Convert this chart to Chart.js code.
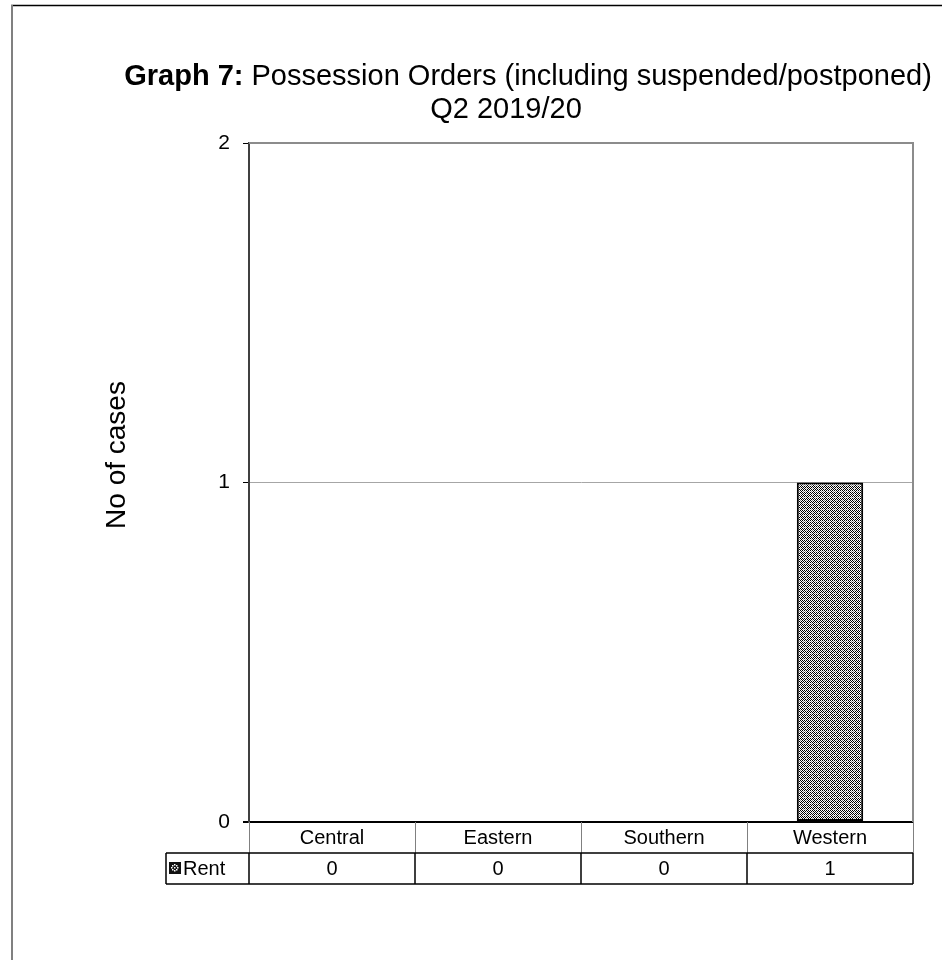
<!DOCTYPE html>
<html>
<head>
<meta charset="utf-8">
<style>
  html, body { margin: 0; padding: 0; background: #fff; }
  #wrap { width: 942px; height: 960px; position: relative; }
</style>
<script src="https://cdn.jsdelivr.net/npm/chart.js@4.4.1/dist/chart.umd.min.js"></script>
</head>
<body>
<div id="wrap"><canvas id="grafico" width="942" height="960"></canvas></div>
<script>
// ─── Dados ────────────────────────────────────────────────────────────────────
const regioes   = ['Central', 'Eastern', 'Southern', 'Western'];
const rent      = [0, 0, 0, 1];
const serieNome = 'Rent';
const eixoMax   = 2;
const tituloNegrito = 'Graph 7:';
const tituloResto   = ' Possession Orders (including suspended/postponed)';
const subtitulo     = 'Q2 2019/20';
const tituloEixoY   = 'No of cases';

const FONTE = '"Liberation Sans", Arial, sans-serif';

// ─── Padrão pontilhado da barra ───────────────────────────────────────────────
function criarPadrao(ctx) {
  const c = document.createElement('canvas');
  c.width = 6; c.height = 6;
  const p = c.getContext('2d');
  p.fillStyle = '#fff';
  p.fillRect(0, 0, 6, 6);
  const pretos = [[0,0],[2,0],[4,0],[1,1],[3,1],[5,1],[0,2],[4,2],[1,3],[3,3],[5,3],[0,4],[2,4],[4,4],[3,5]];
  p.fillStyle = '#000';
  pretos.forEach(([x, y]) => p.fillRect(x, y, 1, 1));
  p.fillStyle = '#888';
  [[2,2],[1,5],[5,5]].forEach(([x, y]) => p.fillRect(x, y, 1, 1));
  return ctx.createPattern(c, 'repeat');
}

// ─── Plugin: título, moldura e tabela de dados ────────────────────────────────
const desenhoExtra = {
  id: 'desenhoExtra',
  afterDraw(chart) {
    const { ctx, chartArea: a, scales: { x } } = chart;
    ctx.save();

    // moldura externa
    ctx.strokeStyle = '#000';
    ctx.lineWidth = 1.5;
    ctx.beginPath(); ctx.moveTo(11, 5.5); ctx.lineTo(942, 5.5); ctx.stroke();
    ctx.strokeStyle = '#808080';
    ctx.lineWidth = 2;
    ctx.beginPath(); ctx.moveTo(12, 5); ctx.lineTo(12, 960); ctx.stroke();

    // título em duas linhas
    ctx.fillStyle = '#000';
    ctx.textBaseline = 'alphabetic';
    ctx.font = `bold 29px ${FONTE}`;
    const w1 = ctx.measureText(tituloNegrito).width;
    ctx.font = `29px ${FONTE}`;
    const w2 = ctx.measureText(tituloResto).width;
    const cx = 528;
    let tx = cx - (w1 + w2) / 2;
    ctx.textAlign = 'left';
    ctx.font = `bold 29px ${FONTE}`;
    ctx.fillText(tituloNegrito, tx, 85);
    ctx.font = `29px ${FONTE}`;
    ctx.fillText(tituloResto, tx + w1, 85);
    ctx.textAlign = 'center';
    ctx.fillText(subtitulo, 506, 118);

    // título do eixo Y
    ctx.save();
    ctx.translate(117, 455);
    ctx.rotate(-Math.PI / 2);
    ctx.font = `28px ${FONTE}`;
    ctx.textAlign = 'center';
    ctx.textBaseline = 'middle';
    ctx.fillText(tituloEixoY, 0, 0);
    ctx.restore();

    // moldura da área do gráfico (topo e direita)
    ctx.strokeStyle = '#8c8c8c';
    ctx.lineWidth = 2;
    ctx.beginPath();
    ctx.moveTo(a.left, a.top); ctx.lineTo(a.right, a.top); ctx.lineTo(a.right, a.bottom);
    ctx.stroke();

    // tabela de dados
    const passo = x.getPixelForValue(1) - x.getPixelForValue(0);
    const bordas = regioes.map((_, i) => x.getPixelForValue(i) - passo / 2);
    bordas.push(x.getPixelForValue(regioes.length - 1) + passo / 2);
    const lin1 = a.bottom, lin2 = a.bottom + 31, lin3 = a.bottom + 62;
    const legEsq = 166;

    ctx.strokeStyle = '#808080';
    ctx.lineWidth = 1;
    bordas.forEach(b => {
      ctx.beginPath(); ctx.moveTo(Math.round(b) + 0.5, lin1); ctx.lineTo(Math.round(b) + 0.5, lin2); ctx.stroke();
    });

    ctx.strokeStyle = '#000';
    ctx.lineWidth = 1.5;
    ctx.beginPath();
    ctx.moveTo(legEsq, lin2); ctx.lineTo(a.right, lin2);
    ctx.moveTo(legEsq, lin3); ctx.lineTo(a.right, lin3);
    ctx.moveTo(legEsq, lin2); ctx.lineTo(legEsq, lin3);
    bordas.forEach(b => { ctx.moveTo(b, lin2); ctx.lineTo(b, lin3); });
    ctx.stroke();

    ctx.fillStyle = '#000';
    ctx.font = `20px ${FONTE}`;
    ctx.textAlign = 'center';
    ctx.textBaseline = 'middle';
    regioes.forEach((r, i) => {
      const px = x.getPixelForValue(i);
      ctx.fillText(r, px, (lin1 + lin2) / 2 + 1);
      ctx.fillText(String(rent[i]), px, (lin2 + lin3) / 2 + 1);
    });

    // chave da legenda: quadrado escuro com pontos claros
    const kx = 169, ky = lin2 + 9;
    ctx.fillStyle = '#111';
    ctx.fillRect(kx, ky, 12, 12);
    ctx.fillStyle = '#fff';
    [[3,3],[7,3],[5,5],[3,7],[7,7],[5,2],[2,5],[8,5],[5,8]].forEach(([dx, dy]) => ctx.fillRect(kx + dx, ky + dy, 1.5, 1.5));
    ctx.fillStyle = '#000';
    ctx.textAlign = 'left';
    ctx.fillText(serieNome, 183, (lin2 + lin3) / 2 + 1);

    ctx.restore();
  },
};

// ─── Gráfico ──────────────────────────────────────────────────────────────────
const canvas = document.getElementById('grafico');
const ctx = canvas.getContext('2d');

new Chart(ctx, {
  type: 'bar',
  data: {
    labels: regioes,
    datasets: [{
      label: serieNome,
      data: rent,
      backgroundColor: criarPadrao(ctx),
      borderColor: '#000',
      borderWidth: 2,
      borderSkipped: false,
      categoryPercentage: 1,
      barPercentage: 0.4,
    }],
  },
  options: {
    responsive: false,
    animation: false,
    devicePixelRatio: 1,
    layout: { padding: { left: 189, top: 143, right: 29, bottom: 138 } },
    plugins: {
      legend: { display: false },
      tooltip: { enabled: false },
    },
    scales: {
      x: { display: false },
      y: {
        min: 0,
        max: eixoMax,
        afterFit: s => { s.width = 60; },
        ticks: {
          stepSize: 1,
          color: '#000',
          padding: 13,
          font: { size: 21, family: FONTE },
        },
        grid: {
          color: c => (c.tick && c.tick.value === 0 ? '#000' : '#a6a6a6'),
          lineWidth: c => (c.tick && c.tick.value === 0 ? 2 : 1),
          tickColor: '#000',
          tickLength: 6,
        },
        border: { color: '#404040', width: 2 },
      },
    },
  },
  plugins: [desenhoExtra],
});
</script>
</body>
</html>
